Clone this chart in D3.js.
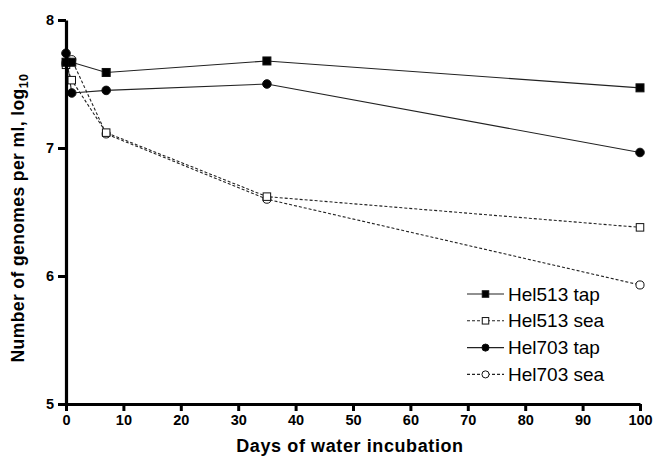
<!DOCTYPE html>
<html lang="en">
<head>
    <meta charset="UTF-8">
    <title>Genomes per ml over water incubation</title>
    <script src="https://cdnjs.cloudflare.com/ajax/libs/d3/7.8.5/d3.min.js"></script>
    <style>
        body {
            margin: 0;
            background-color: white;
        }

        svg text {
            font-family: Arial, "Liberation Sans", sans-serif;
        }
    </style>
</head>
<body>
<div id="chart"></div>
<script>
    // values (log10 genomes per ml)
    const days = [0, 1, 7, 35, 100];
    const hel513Tap = [7.67, 7.67, 7.59, 7.68, 7.47];
    const hel513Sea = [7.65, 7.53, 7.12, 6.62, 6.38];
    const hel703Tap = [7.74, 7.43, 7.45, 7.50, 6.965];
    const hel703Sea = [7.66, 7.69, 7.11, 6.60, 5.93];
    const seriesNames = ['Hel513 tap', 'Hel513 sea', 'Hel703 tap', 'Hel703 sea'];
    const xTicks = [0, 10, 20, 30, 40, 50, 60, 70, 80, 90, 100];
    const yTicks = [5, 6, 7, 8];

    const width = 653;
    const height = 460;
    const margin = {top: 20, right: 13, bottom: 56, left: 66};

    const svg = d3.select('#chart')
        .append('svg')
        .attr('width', width)
        .attr('height', height);

    const x = d3.scaleLinear().domain([0, 100]).range([margin.left, width - margin.right]);
    const y = d3.scaleLinear().domain([5, 8]).range([height - margin.bottom, margin.top]);

    const series = [
        {name: seriesNames[0], values: hel513Tap, dash: null, shape: 'square', fill: 'black'},
        {name: seriesNames[1], values: hel513Sea, dash: '3,2', shape: 'square', fill: 'white'},
        {name: seriesNames[2], values: hel703Tap, dash: null, shape: 'circle', fill: 'black'},
        {name: seriesNames[3], values: hel703Sea, dash: '3,2', shape: 'circle', fill: 'white'}
    ];

    const line = d3.line()
        .x((d, i) => x(days[i]))
        .y(d => y(d));

    function drawMarker(g, shape, fill, size) {
        if (shape === 'square') {
            g.append('rect')
                .attr('x', -size / 2).attr('y', -size / 2)
                .attr('width', size).attr('height', size)
                .attr('fill', fill).attr('stroke', '#111').attr('stroke-width', 1);
        } else {
            g.append('circle')
                .attr('r', size / 2 + 0.3)
                .attr('fill', fill).attr('stroke', '#111').attr('stroke-width', 1);
        }
    }

    // lines, drawn from the back series to the front
    const plot = svg.append('g');
    series.slice().reverse().forEach(s => {
        plot.append('path')
            .datum(s.values)
            .attr('d', line)
            .attr('fill', 'none')
            .attr('stroke', '#222')
            .attr('stroke-width', 1.1)
            .attr('stroke-dasharray', s.dash);
    });
    series.slice().reverse().forEach(s => {
        plot.append('g')
            .selectAll('g')
            .data(s.values)
            .join('g')
            .attr('transform', (d, i) => `translate(${x(days[i])},${y(d)})`)
            .each(function () {
                drawMarker(d3.select(this), s.shape, s.fill, s.fill === 'black' ? 8 : 7.5);
            });
    });

    // axes
    const xAxis = svg.append('g')
        .attr('transform', `translate(0,${y(5)})`)
        .call(d3.axisBottom(x).tickValues(xTicks).tickSize(7).tickPadding(4).tickSizeOuter(0));
    const yAxis = svg.append('g')
        .attr('transform', `translate(${x(0)},0)`)
        .call(d3.axisLeft(y).tickValues(yTicks).tickFormat(d3.format('d')).tickSize(8).tickPadding(4).tickSizeOuter(0));

    [xAxis, yAxis].forEach(a => {
        a.select('.domain').attr('stroke', 'black').attr('stroke-width', 3.2);
        a.selectAll('.tick line').attr('stroke', 'black').attr('stroke-width', 3);
        a.selectAll('.tick text')
            .attr('fill', 'black')
            .style('font-size', '14.5px')
            .style('font-weight', 'bold');
    });

    // axis titles
    svg.append('text')
        .attr('x', 350)
        .attr('y', 452)
        .attr('text-anchor', 'middle')
        .style('font-size', '18px')
        .style('font-weight', 'bold')
        .style('letter-spacing', '0.6px')
        .text('Days of water incubation');

    const yTitle = svg.append('text')
        .attr('transform', 'translate(24,218) rotate(-90)')
        .attr('text-anchor', 'middle')
        .style('font-size', '17.5px')
        .style('font-weight', 'bold')
        .style('letter-spacing', '0.4px');
    yTitle.append('tspan').text('Number of genomes per ml, log');
    yTitle.append('tspan').attr('dy', 4).style('font-size', '12.5px').text('10');

    // legend
    const legend = svg.append('g').attr('transform', 'translate(467,294)');
    series.forEach((s, i) => {
        const row = legend.append('g').attr('transform', `translate(0,${i * 26.8})`);
        row.append('line')
            .attr('x1', 0).attr('x2', 37)
            .attr('stroke', '#222').attr('stroke-width', 1.1)
            .attr('stroke-dasharray', s.dash);
        const m = row.append('g').attr('transform', 'translate(18.5,0)');
        drawMarker(m, s.shape, s.fill, 6.5);
        row.append('text')
            .attr('x', 41)
            .attr('y', 6.5)
            .style('font-size', '19px')
            .text(s.name);
    });
</script>
</body>
</html>
